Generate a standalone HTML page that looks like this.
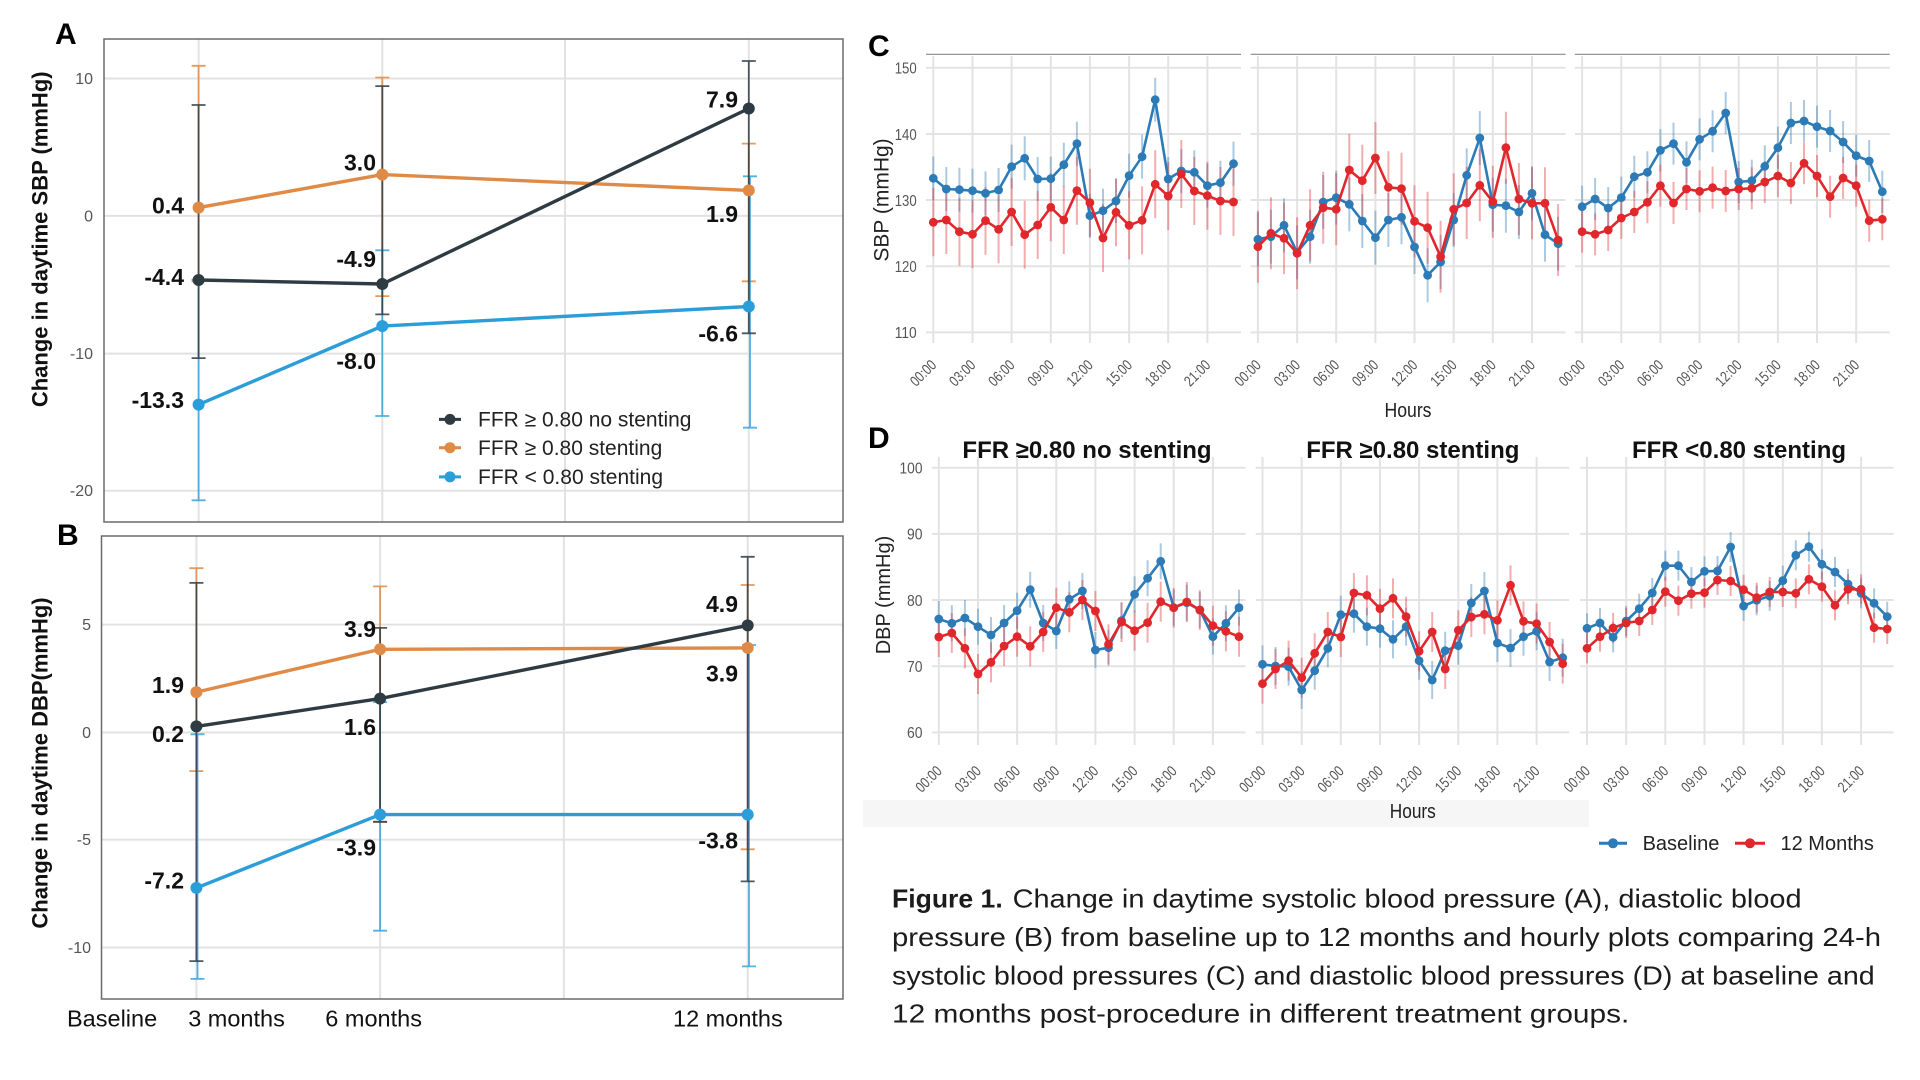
<!DOCTYPE html>
<html><head><meta charset="utf-8">
<style>
html,body{margin:0;padding:0;background:#fff}
svg{display:block}
text{font-family:"Liberation Sans",Arial,sans-serif}
</style></head>
<body>
<svg xmlns="http://www.w3.org/2000/svg" xmlns:xlink="http://www.w3.org/1999/xlink" width="1920" height="1080" viewBox="0 0 1920 1080">
<defs>
<marker id="mB" markerUnits="userSpaceOnUse" overflow="visible" markerWidth="10" markerHeight="10" refX="0" refY="0"><circle r="4.4" fill="#2c7bb6"/></marker>
<marker id="mR" markerUnits="userSpaceOnUse" overflow="visible" markerWidth="10" markerHeight="10" refX="0" refY="0"><circle r="4.4" fill="#e0282c"/></marker>
<marker id="eb22" markerUnits="userSpaceOnUse" overflow="visible" markerWidth="4" markerHeight="4" refX="0" refY="0"><path d="M0,-22V22" stroke="#2c7bb6" stroke-opacity=".4" stroke-width="2"/></marker>
<marker id="eb27" markerUnits="userSpaceOnUse" overflow="visible" markerWidth="4" markerHeight="4" refX="0" refY="0"><path d="M0,-27V27" stroke="#2c7bb6" stroke-opacity=".4" stroke-width="2"/></marker>
<marker id="eb21" markerUnits="userSpaceOnUse" overflow="visible" markerWidth="4" markerHeight="4" refX="0" refY="0"><path d="M0,-21V21" stroke="#2c7bb6" stroke-opacity=".4" stroke-width="2"/></marker>
<marker id="eb18" markerUnits="userSpaceOnUse" overflow="visible" markerWidth="4" markerHeight="4" refX="0" refY="0"><path d="M0,-18V18" stroke="#2c7bb6" stroke-opacity=".4" stroke-width="2"/></marker>
<marker id="eb19" markerUnits="userSpaceOnUse" overflow="visible" markerWidth="4" markerHeight="4" refX="0" refY="0"><path d="M0,-19V19" stroke="#2c7bb6" stroke-opacity=".4" stroke-width="2"/></marker>
<marker id="eb15" markerUnits="userSpaceOnUse" overflow="visible" markerWidth="4" markerHeight="4" refX="0" refY="0"><path d="M0,-15V15" stroke="#2c7bb6" stroke-opacity=".4" stroke-width="2"/></marker>
<marker id="er34" markerUnits="userSpaceOnUse" overflow="visible" markerWidth="4" markerHeight="4" refX="0" refY="0"><path d="M0,-34V34" stroke="#e0282c" stroke-opacity=".38" stroke-width="2"/></marker>
<marker id="er36" markerUnits="userSpaceOnUse" overflow="visible" markerWidth="4" markerHeight="4" refX="0" refY="0"><path d="M0,-36V36" stroke="#e0282c" stroke-opacity=".38" stroke-width="2"/></marker>
<marker id="er21" markerUnits="userSpaceOnUse" overflow="visible" markerWidth="4" markerHeight="4" refX="0" refY="0"><path d="M0,-21V21" stroke="#e0282c" stroke-opacity=".38" stroke-width="2"/></marker>
<marker id="er20" markerUnits="userSpaceOnUse" overflow="visible" markerWidth="4" markerHeight="4" refX="0" refY="0"><path d="M0,-20V20" stroke="#e0282c" stroke-opacity=".38" stroke-width="2"/></marker>
<marker id="er15" markerUnits="userSpaceOnUse" overflow="visible" markerWidth="4" markerHeight="4" refX="0" refY="0"><path d="M0,-15V15" stroke="#e0282c" stroke-opacity=".38" stroke-width="2"/></marker>

<g id="cgrid">
<path d="M-7.3,67.7H307.7M-7.3,134H307.7M-7.3,200H307.7M-7.3,266.2H307.7M-7.3,332.4H307.7" stroke="#e3e3e3" stroke-width="2" fill="none"/>
<path d="M0,56V343M39.2,56V343M78.3,56V343M117.5,56V343M156.6,56V343M195.8,56V343M234.9,56V343M274.1,56V343" stroke="#e3e3e3" stroke-width="2" fill="none"/>
<path d="M-7.3,54.3H307.7" stroke="#8a8a8a" stroke-width="1.2"/>
</g>
<g id="dgrid">
<path d="M-6.8,467.7H306.7M-6.8,533.9H306.7M-6.8,600H306.7M-6.8,666.2H306.7M-6.8,732.4H306.7" stroke="#e3e3e3" stroke-width="2" fill="none"/>
<path d="M0,457V745M39.2,457V745M78.3,457V745M117.5,457V745M156.6,457V745M195.8,457V745M234.9,457V745M274.1,457V745" stroke="#e3e3e3" stroke-width="2" fill="none"/>
</g>

<polyline id="c1b" points="0,178.3 13,189 26.1,189.7 39.2,190.7 52.2,193.3 65.3,190 78.3,166.7 91.4,158.3 104.4,179 117.5,178.7 130.5,164.7 143.6,143.7 156.6,215.7 169.7,210.7 182.7,201 195.8,175.7 208.8,156.7 221.9,99.7 234.9,179 248,171 261,172.3 274.1,185.7 287.1,182.7 300.2,163.7"/>
<polyline id="c1r" points="0,222.3 13,220 26.1,231.7 39.2,234.3 52.2,220.7 65.3,229.3 78.3,212 91.4,234.7 104.4,225 117.5,207.3 130.5,220 143.6,190.7 156.6,202.7 169.7,238 182.7,212.3 195.8,225.3 208.8,220.3 221.9,184.3 234.9,196 248,174 261,191 274.1,195.7 287.1,201 300.2,202"/>
<polyline id="c2b" points="0,239.3 13,236.7 26.1,225.3 39.2,252.3 52.2,236.7 65.3,202 78.3,197.7 91.4,204.3 104.4,221 117.5,237.7 130.5,220 143.6,217.3 156.6,247 169.7,275.3 182.7,262 195.8,220 208.8,175.3 221.9,138 234.9,204.7 248,205.7 261,212 274.1,193.3 287.1,234.7 300.2,243.7"/>
<polyline id="c2r" points="0,246.7 13,233.3 26.1,238.3 39.2,253.3 52.2,225.3 65.3,207.7 78.3,209.3 91.4,170 104.4,180.7 117.5,158 130.5,187.3 143.6,188.7 156.6,221.3 169.7,227.7 182.7,256.7 195.8,209.3 208.8,203 221.9,185.3 234.9,201.7 248,147.7 261,199 274.1,203.3 287.1,203.3 300.2,240"/>
<polyline id="c3b" points="0,206.7 13,199 26.1,208 39.2,197.7 52.2,176.7 65.3,172.3 78.3,150.3 91.4,143.7 104.4,162.3 117.5,139.3 130.5,131.3 143.6,113 156.6,182 169.7,180.7 182.7,166.3 195.8,147.7 208.8,123 221.9,121 234.9,126.7 248,131 261,142 274.1,155.7 287.1,161 300.2,191.7"/>
<polyline id="c3r" points="0,231.7 13,234.3 26.1,230 39.2,218 52.2,212 65.3,202.3 78.3,185.7 91.4,203 104.4,189 117.5,191.3 130.5,187.7 143.6,191 156.6,189 169.7,188.3 182.7,182 195.8,176 208.8,183 221.9,163.3 234.9,176 248,196.7 261,178 274.1,185.7 287.1,220.7 300.2,219.3"/>
<polyline id="d1b" points="0,619 13,623.3 26.1,618 39.2,626.7 52.2,635 65.3,623 78.3,610.7 91.4,589.7 104.4,623 117.5,631 130.5,599.3 143.6,591 156.6,650 169.7,647.7 182.7,620.7 195.8,594.3 208.8,578.3 221.9,561.3 234.9,607.7 248,602.7 261,610 274.1,636.7 287.1,623.3 300.2,607.7"/>
<polyline id="d1r" points="0,637 13,633 26.1,648.3 39.2,674 52.2,662.3 65.3,646 78.3,636.7 91.4,646.3 104.4,632 117.5,607.7 130.5,612.3 143.6,600 156.6,611 169.7,644.3 182.7,622 195.8,630.7 208.8,622.7 221.9,601.7 234.9,607.7 248,602 261,610 274.1,625.7 287.1,631.3 300.2,636.7"/>
<polyline id="d2b" points="0,664.3 13,666 26.1,666.7 39.2,690 52.2,670.7 65.3,648.3 78.3,614.7 91.4,613.7 104.4,626.7 117.5,628.7 130.5,639.3 143.6,626.7 156.6,660.7 169.7,680 182.7,650.7 195.8,645.7 208.8,603 221.9,591 234.9,643 248,648 261,636.7 274.1,631.3 287.1,662 300.2,657.7"/>
<polyline id="d2r" points="0,683.7 13,669 26.1,660.7 39.2,677.7 52.2,653.3 65.3,632 78.3,637 91.4,593 104.4,595.3 117.5,608.7 130.5,598.3 143.6,616.7 156.6,651.3 169.7,632 182.7,669 195.8,630.3 208.8,617 221.9,614.3 234.9,620.3 248,585.3 261,621.3 274.1,623.7 287.1,642 300.2,663.7"/>
<polyline id="d3b" points="0,628.3 13,623 26.1,637.3 39.2,621 52.2,608.7 65.3,593 78.3,565.7 91.4,565.7 104.4,582 117.5,571.3 130.5,571 143.6,547 156.6,606 169.7,600.3 182.7,596 195.8,580.7 208.8,555.3 221.9,546.7 234.9,564.3 248,572 261,584 274.1,593.3 287.1,603.3 300.2,616.7"/>
<polyline id="d3r" points="0,648.3 13,636.7 26.1,628 39.2,623 52.2,621 65.3,610 78.3,591.7 91.4,600.7 104.4,593.7 117.5,592.7 130.5,580 143.6,581 156.6,589.7 169.7,597.7 182.7,592 195.8,592 208.8,593.3 221.9,579.3 234.9,586.7 248,605.3 261,589.3 274.1,589.3 287.1,627.7 300.2,629"/>
</defs>

<rect width="1920" height="1080" fill="#fff"/>

<!-- ================= PANEL A ================= -->
<path d="M104,78.5H843M104,215.9H843M104,353.6H843M104,490.7H843M198.6,39V522M382.3,39V522M565,39V522M748.8,39V522" stroke="#e2e2e2" stroke-width="2" fill="none"/>
<rect x="104" y="39" width="739" height="483" fill="none" stroke="#6b6b6b" stroke-width="1.5"/>
<g font-size="16" fill="#555" text-anchor="end">
<text x="93" y="84">10</text><text x="93" y="221.4">0</text><text x="93" y="359.1">-10</text><text x="93" y="496.2">-20</text>
</g>
<!-- error bars A -->
<path d="M198.6,65.8V281.3M191.6,65.8h14M191.6,281.3h14M382.3,77.5V296.1M375.3,77.5h14M375.3,296.1h14M748.8,143.6V281.3M741.8,143.6h14M741.8,281.3h14" stroke="#df8a47" stroke-width="1.8" stroke-opacity=".85" fill="none"/>
<path d="M198.6,279.6V500.3M191.6,279.6h14M191.6,500.3h14M382.3,250.3V416M375.3,250.3h14M375.3,416h14M750,176.3V427.7M743,176.3h14M743,427.7h14" stroke="#2b9dd8" stroke-width="1.8" stroke-opacity=".8" fill="none"/>
<path d="M198.6,105V358.1M191.6,105h14M191.6,358.1h14M382.3,86.1V314.4M375.3,86.1h14M375.3,314.4h14M748.8,61V333.3M741.8,61h14M741.8,333.3h14" stroke="#2f3b42" stroke-width="1.8" stroke-opacity=".85" fill="none"/>
<!-- lines A -->
<polyline points="198.6,207.6 382.3,174.6 748.8,190.4" fill="none" stroke="#df8a47" stroke-width="3.4"/>
<polyline points="198.6,404.6 382.3,326.1 748.8,306.5" fill="none" stroke="#2b9dd8" stroke-width="3.4"/>
<polyline points="198.6,280 382.3,284 748.8,108.5" fill="none" stroke="#2f3b42" stroke-width="3.4"/>
<g fill="#df8a47"><circle cx="198.6" cy="207.6" r="6"/><circle cx="382.3" cy="174.6" r="6"/><circle cx="748.8" cy="190.4" r="6"/></g>
<g fill="#2b9dd8"><circle cx="198.6" cy="404.6" r="6"/><circle cx="382.3" cy="326.1" r="6"/><circle cx="748.8" cy="306.5" r="6"/></g>
<g fill="#2f3b42"><circle cx="198.6" cy="280" r="6"/><circle cx="382.3" cy="284" r="6"/><circle cx="748.8" cy="108.5" r="6"/></g>
<g font-size="23" font-weight="bold" fill="#111" text-anchor="end">
<text x="184" y="213.5">0.4</text><text x="184" y="284.8">-4.4</text><text x="184" y="408">-13.3</text>
<text x="376" y="170.5">3.0</text><text x="376" y="266.9">-4.9</text><text x="376" y="369.1">-8.0</text>
<text x="738" y="107.4">7.9</text><text x="738" y="222.1">1.9</text><text x="738" y="341.6">-6.6</text>
</g>
<!-- legend A -->
<path d="M439,419.4h22" stroke="#2f3b42" stroke-width="3"/><circle cx="450" cy="419.4" r="5.5" fill="#2f3b42"/>
<path d="M439,447.7h22" stroke="#df8a47" stroke-width="3"/><circle cx="450" cy="447.7" r="5.5" fill="#df8a47"/>
<path d="M439,476.9h22" stroke="#2b9dd8" stroke-width="3"/><circle cx="450" cy="476.9" r="5.5" fill="#2b9dd8"/>
<g font-size="21" fill="#222">
<text x="478" y="426.7">FFR ≥ 0.80 no stenting</text>
<text x="478" y="455">FFR ≥ 0.80 stenting</text>
<text x="478" y="484.2">FFR &lt; 0.80 stenting</text>
</g>
<text transform="translate(47.5,239.3) rotate(-90)" text-anchor="middle" font-size="22" font-weight="bold" fill="#111">Change in daytime SBP (mmHg)</text>
<text x="55" y="44" font-size="30" font-weight="bold" fill="#000">A</text>

<!-- ================= PANEL B ================= -->
<path d="M101.5,624.6H843M101.5,732.5H843M101.5,839.6H843M101.5,947.5H843M196.4,536V999M380.1,536V999M563.9,536V999M747.7,536V999" stroke="#e2e2e2" stroke-width="2" fill="none"/>
<rect x="101.5" y="536" width="741.5" height="463" fill="none" stroke="#6b6b6b" stroke-width="1.5"/>
<g font-size="16" fill="#555" text-anchor="end">
<text x="91" y="630.1">5</text><text x="91" y="738">0</text><text x="91" y="845.1">-5</text><text x="91" y="953">-10</text>
</g>
<path d="M196.4,568.2V771.1M189.4,568.2h14M189.4,771.1h14M380.1,586.4V821.8M373.1,586.4h14M373.1,821.8h14M747.7,585V849.3M740.7,585h14M740.7,849.3h14" stroke="#df8a47" stroke-width="1.8" stroke-opacity=".85" fill="none"/>
<path d="M197.5,734.3V978.9M190.5,734.3h14M190.5,978.9h14M380.1,702.1V930.7M373.1,702.1h14M373.1,930.7h14M749,645V966.4M742,645h14M742,966.4h14" stroke="#2b9dd8" stroke-width="1.8" stroke-opacity=".8" fill="none"/>
<path d="M196.4,582.9V961.1M189.4,582.9h14M189.4,961.1h14M380.1,627.9V821.8M373.1,627.9h14M373.1,821.8h14M747.7,556.8V881.4M740.7,556.8h14M740.7,881.4h14" stroke="#2f3b42" stroke-width="1.8" stroke-opacity=".85" fill="none"/>
<polyline points="196.4,692.1 380.1,649.3 747.7,647.9" fill="none" stroke="#df8a47" stroke-width="3.4"/>
<polyline points="196.4,887.9 380.1,814.6 747.7,814.6" fill="none" stroke="#2b9dd8" stroke-width="3.4"/>
<polyline points="196.4,726.4 380.1,698.6 747.7,625.4" fill="none" stroke="#2f3b42" stroke-width="3.4"/>
<g fill="#df8a47"><circle cx="196.4" cy="692.1" r="6"/><circle cx="380.1" cy="649.3" r="6"/><circle cx="747.7" cy="647.9" r="6"/></g>
<g fill="#2b9dd8"><circle cx="196.4" cy="887.9" r="6"/><circle cx="380.1" cy="814.6" r="6"/><circle cx="747.7" cy="814.6" r="6"/></g>
<g fill="#2f3b42"><circle cx="196.4" cy="726.4" r="6"/><circle cx="380.1" cy="698.6" r="6"/><circle cx="747.7" cy="625.4" r="6"/></g>
<g font-size="23" font-weight="bold" fill="#111" text-anchor="end">
<text x="184" y="693.2">1.9</text><text x="184" y="742.1">0.2</text><text x="184" y="888.6">-7.2</text>
<text x="376" y="636.8">3.9</text><text x="376" y="735">1.6</text><text x="376" y="855.7">-3.9</text>
<text x="738" y="612.1">4.9</text><text x="738" y="681.4">3.9</text><text x="738" y="848.6">-3.8</text>
</g>
<text transform="translate(47.5,763) rotate(-90)" text-anchor="middle" font-size="22" font-weight="bold" fill="#111">Change in daytime DBP(mmHg)</text>
<text x="57" y="545" font-size="30" font-weight="bold" fill="#000">B</text>
<g font-size="23.5" fill="#111">
<text x="67" y="1026.4">Baseline</text>
<text x="188.2" y="1026.4">3 months</text>
<text x="325.3" y="1026.4">6 months</text>
<text x="673" y="1026.4">12 months</text>
</g>

<!-- ================= PANEL C ================= -->
<text x="868" y="56" font-size="30" font-weight="bold" fill="#000">C</text>
<text transform="translate(888.5,200) rotate(-90)" text-anchor="middle" font-size="21" fill="#222">SBP (mmHg)</text>
<g font-size="16" fill="#555" text-anchor="end" lengthAdjust="spacingAndGlyphs">
<text x="916.7" y="73.5" textLength="22" lengthAdjust="spacingAndGlyphs">150</text>
<text x="916.7" y="139.8" textLength="22" lengthAdjust="spacingAndGlyphs">140</text>
<text x="916.7" y="205.8" textLength="22" lengthAdjust="spacingAndGlyphs">130</text>
<text x="916.7" y="272" textLength="22" lengthAdjust="spacingAndGlyphs">120</text>
<text x="916.7" y="338.2" textLength="22" lengthAdjust="spacingAndGlyphs">110</text>
</g>

<g transform="translate(933.3,0)">
<use href="#cgrid" xlink:href="#cgrid"/>
<use href="#c1b" xlink:href="#c1b" fill="none" stroke="none" style="marker:url(#eb22)"/>
<use href="#c1r" xlink:href="#c1r" fill="none" stroke="none" style="marker:url(#er34)"/>
<use href="#c1b" xlink:href="#c1b" fill="none" stroke="#2c7bb6" stroke-width="2.6" stroke-linejoin="round" style="marker:url(#mB)"/>
<use href="#c1r" xlink:href="#c1r" fill="none" stroke="#e0282c" stroke-width="2.6" stroke-linejoin="round" style="marker:url(#mR)"/>
<g font-size="15" fill="#555" text-anchor="end">
<text transform="translate(4,366) rotate(-45)" textLength="30" lengthAdjust="spacingAndGlyphs">00:00</text>
<text transform="translate(43.2,366) rotate(-45)" textLength="30" lengthAdjust="spacingAndGlyphs">03:00</text>
<text transform="translate(82.3,366) rotate(-45)" textLength="30" lengthAdjust="spacingAndGlyphs">06:00</text>
<text transform="translate(121.5,366) rotate(-45)" textLength="30" lengthAdjust="spacingAndGlyphs">09:00</text>
<text transform="translate(160.6,366) rotate(-45)" textLength="30" lengthAdjust="spacingAndGlyphs">12:00</text>
<text transform="translate(199.8,366) rotate(-45)" textLength="30" lengthAdjust="spacingAndGlyphs">15:00</text>
<text transform="translate(238.9,366) rotate(-45)" textLength="30" lengthAdjust="spacingAndGlyphs">18:00</text>
<text transform="translate(278.1,366) rotate(-45)" textLength="30" lengthAdjust="spacingAndGlyphs">21:00</text>
</g>
</g>

<g transform="translate(1257.9,0)">
<use href="#cgrid" xlink:href="#cgrid"/>
<use href="#c2b" xlink:href="#c2b" fill="none" stroke="none" style="marker:url(#eb27)"/>
<use href="#c2r" xlink:href="#c2r" fill="none" stroke="none" style="marker:url(#er36)"/>
<use href="#c2b" xlink:href="#c2b" fill="none" stroke="#2c7bb6" stroke-width="2.6" stroke-linejoin="round" style="marker:url(#mB)"/>
<use href="#c2r" xlink:href="#c2r" fill="none" stroke="#e0282c" stroke-width="2.6" stroke-linejoin="round" style="marker:url(#mR)"/>
<g font-size="15" fill="#555" text-anchor="end">
<text transform="translate(4,366) rotate(-45)" textLength="30" lengthAdjust="spacingAndGlyphs">00:00</text>
<text transform="translate(43.2,366) rotate(-45)" textLength="30" lengthAdjust="spacingAndGlyphs">03:00</text>
<text transform="translate(82.3,366) rotate(-45)" textLength="30" lengthAdjust="spacingAndGlyphs">06:00</text>
<text transform="translate(121.5,366) rotate(-45)" textLength="30" lengthAdjust="spacingAndGlyphs">09:00</text>
<text transform="translate(160.6,366) rotate(-45)" textLength="30" lengthAdjust="spacingAndGlyphs">12:00</text>
<text transform="translate(199.8,366) rotate(-45)" textLength="30" lengthAdjust="spacingAndGlyphs">15:00</text>
<text transform="translate(238.9,366) rotate(-45)" textLength="30" lengthAdjust="spacingAndGlyphs">18:00</text>
<text transform="translate(278.1,366) rotate(-45)" textLength="30" lengthAdjust="spacingAndGlyphs">21:00</text>
</g>
</g>

<g transform="translate(1582.1,0)">
<use href="#cgrid" xlink:href="#cgrid"/>
<use href="#c3b" xlink:href="#c3b" fill="none" stroke="none" style="marker:url(#eb21)"/>
<use href="#c3r" xlink:href="#c3r" fill="none" stroke="none" style="marker:url(#er21)"/>
<use href="#c3b" xlink:href="#c3b" fill="none" stroke="#2c7bb6" stroke-width="2.6" stroke-linejoin="round" style="marker:url(#mB)"/>
<use href="#c3r" xlink:href="#c3r" fill="none" stroke="#e0282c" stroke-width="2.6" stroke-linejoin="round" style="marker:url(#mR)"/>
<g font-size="15" fill="#555" text-anchor="end">
<text transform="translate(4,366) rotate(-45)" textLength="30" lengthAdjust="spacingAndGlyphs">00:00</text>
<text transform="translate(43.2,366) rotate(-45)" textLength="30" lengthAdjust="spacingAndGlyphs">03:00</text>
<text transform="translate(82.3,366) rotate(-45)" textLength="30" lengthAdjust="spacingAndGlyphs">06:00</text>
<text transform="translate(121.5,366) rotate(-45)" textLength="30" lengthAdjust="spacingAndGlyphs">09:00</text>
<text transform="translate(160.6,366) rotate(-45)" textLength="30" lengthAdjust="spacingAndGlyphs">12:00</text>
<text transform="translate(199.8,366) rotate(-45)" textLength="30" lengthAdjust="spacingAndGlyphs">15:00</text>
<text transform="translate(238.9,366) rotate(-45)" textLength="30" lengthAdjust="spacingAndGlyphs">18:00</text>
<text transform="translate(278.1,366) rotate(-45)" textLength="30" lengthAdjust="spacingAndGlyphs">21:00</text>
</g>
</g>
<text x="1408" y="417" text-anchor="middle" font-size="20" fill="#222" textLength="47" lengthAdjust="spacingAndGlyphs">Hours</text>

<!-- ================= PANEL D ================= -->
<rect x="863" y="800" width="726" height="27" fill="#f6f6f6"/>
<text x="868" y="448" font-size="30" font-weight="bold" fill="#000">D</text>
<text transform="translate(890,595) rotate(-90)" text-anchor="middle" font-size="20" fill="#222">DBP (mmHg)</text>
<g font-size="16" fill="#555" text-anchor="end">
<text x="922.5" y="473.5" textLength="23" lengthAdjust="spacingAndGlyphs">100</text>
<text x="922.5" y="539.7" textLength="15.5" lengthAdjust="spacingAndGlyphs">90</text>
<text x="922.5" y="605.8" textLength="15.5" lengthAdjust="spacingAndGlyphs">80</text>
<text x="922.5" y="672" textLength="15.5" lengthAdjust="spacingAndGlyphs">70</text>
<text x="922.5" y="738.2" textLength="15.5" lengthAdjust="spacingAndGlyphs">60</text>
</g>
<g font-size="24" font-weight="bold" fill="#111" text-anchor="middle">
<text x="1087" y="458">FFR ≥0.80 no stenting</text>
<text x="1412.8" y="458">FFR ≥0.80 stenting</text>
<text x="1739" y="458">FFR &lt;0.80 stenting</text>
</g>

<g transform="translate(938.8,0)">
<use href="#dgrid" xlink:href="#dgrid"/>
<use href="#d1b" xlink:href="#d1b" fill="none" stroke="none" style="marker:url(#eb18)"/>
<use href="#d1r" xlink:href="#d1r" fill="none" stroke="none" style="marker:url(#er20)"/>
<use href="#d1b" xlink:href="#d1b" fill="none" stroke="#2c7bb6" stroke-width="2.6" stroke-linejoin="round" style="marker:url(#mB)"/>
<use href="#d1r" xlink:href="#d1r" fill="none" stroke="#e0282c" stroke-width="2.6" stroke-linejoin="round" style="marker:url(#mR)"/>
<g font-size="15" fill="#555" text-anchor="end">
<text transform="translate(4,772) rotate(-45)" textLength="30" lengthAdjust="spacingAndGlyphs">00:00</text>
<text transform="translate(43.2,772) rotate(-45)" textLength="30" lengthAdjust="spacingAndGlyphs">03:00</text>
<text transform="translate(82.3,772) rotate(-45)" textLength="30" lengthAdjust="spacingAndGlyphs">06:00</text>
<text transform="translate(121.5,772) rotate(-45)" textLength="30" lengthAdjust="spacingAndGlyphs">09:00</text>
<text transform="translate(160.6,772) rotate(-45)" textLength="30" lengthAdjust="spacingAndGlyphs">12:00</text>
<text transform="translate(199.8,772) rotate(-45)" textLength="30" lengthAdjust="spacingAndGlyphs">15:00</text>
<text transform="translate(238.9,772) rotate(-45)" textLength="30" lengthAdjust="spacingAndGlyphs">18:00</text>
<text transform="translate(278.1,772) rotate(-45)" textLength="30" lengthAdjust="spacingAndGlyphs">21:00</text>
</g>
</g>

<g transform="translate(1262.5,0)">
<use href="#dgrid" xlink:href="#dgrid"/>
<use href="#d2b" xlink:href="#d2b" fill="none" stroke="none" style="marker:url(#eb19)"/>
<use href="#d2r" xlink:href="#d2r" fill="none" stroke="none" style="marker:url(#er20)"/>
<use href="#d2b" xlink:href="#d2b" fill="none" stroke="#2c7bb6" stroke-width="2.6" stroke-linejoin="round" style="marker:url(#mB)"/>
<use href="#d2r" xlink:href="#d2r" fill="none" stroke="#e0282c" stroke-width="2.6" stroke-linejoin="round" style="marker:url(#mR)"/>
<g font-size="15" fill="#555" text-anchor="end">
<text transform="translate(4,772) rotate(-45)" textLength="30" lengthAdjust="spacingAndGlyphs">00:00</text>
<text transform="translate(43.2,772) rotate(-45)" textLength="30" lengthAdjust="spacingAndGlyphs">03:00</text>
<text transform="translate(82.3,772) rotate(-45)" textLength="30" lengthAdjust="spacingAndGlyphs">06:00</text>
<text transform="translate(121.5,772) rotate(-45)" textLength="30" lengthAdjust="spacingAndGlyphs">09:00</text>
<text transform="translate(160.6,772) rotate(-45)" textLength="30" lengthAdjust="spacingAndGlyphs">12:00</text>
<text transform="translate(199.8,772) rotate(-45)" textLength="30" lengthAdjust="spacingAndGlyphs">15:00</text>
<text transform="translate(238.9,772) rotate(-45)" textLength="30" lengthAdjust="spacingAndGlyphs">18:00</text>
<text transform="translate(278.1,772) rotate(-45)" textLength="30" lengthAdjust="spacingAndGlyphs">21:00</text>
</g>
</g>

<g transform="translate(1587,0)">
<use href="#dgrid" xlink:href="#dgrid"/>
<use href="#d3b" xlink:href="#d3b" fill="none" stroke="none" style="marker:url(#eb15)"/>
<use href="#d3r" xlink:href="#d3r" fill="none" stroke="none" style="marker:url(#er15)"/>
<use href="#d3b" xlink:href="#d3b" fill="none" stroke="#2c7bb6" stroke-width="2.6" stroke-linejoin="round" style="marker:url(#mB)"/>
<use href="#d3r" xlink:href="#d3r" fill="none" stroke="#e0282c" stroke-width="2.6" stroke-linejoin="round" style="marker:url(#mR)"/>
<g font-size="15" fill="#555" text-anchor="end">
<text transform="translate(4,772) rotate(-45)" textLength="30" lengthAdjust="spacingAndGlyphs">00:00</text>
<text transform="translate(43.2,772) rotate(-45)" textLength="30" lengthAdjust="spacingAndGlyphs">03:00</text>
<text transform="translate(82.3,772) rotate(-45)" textLength="30" lengthAdjust="spacingAndGlyphs">06:00</text>
<text transform="translate(121.5,772) rotate(-45)" textLength="30" lengthAdjust="spacingAndGlyphs">09:00</text>
<text transform="translate(160.6,772) rotate(-45)" textLength="30" lengthAdjust="spacingAndGlyphs">12:00</text>
<text transform="translate(199.8,772) rotate(-45)" textLength="30" lengthAdjust="spacingAndGlyphs">15:00</text>
<text transform="translate(238.9,772) rotate(-45)" textLength="30" lengthAdjust="spacingAndGlyphs">18:00</text>
<text transform="translate(278.1,772) rotate(-45)" textLength="30" lengthAdjust="spacingAndGlyphs">21:00</text>
</g>
</g>
<text x="1412.8" y="818" text-anchor="middle" font-size="20" fill="#222" textLength="46" lengthAdjust="spacingAndGlyphs">Hours</text>

<!-- bottom legend -->
<path d="M1599,843.3h28" stroke="#2c7bb6" stroke-width="3"/><circle cx="1613" cy="843.3" r="5" fill="#2c7bb6"/>
<text x="1642.6" y="850" font-size="20" fill="#222">Baseline</text>
<path d="M1735,843.3h30" stroke="#e0282c" stroke-width="3"/><circle cx="1750" cy="843.3" r="5" fill="#e0282c"/>
<text x="1780.5" y="850" font-size="20" fill="#222">12 Months</text>

<!-- caption -->
<g font-size="26" fill="#1c1c1c">
<text x="892" y="907.5" font-weight="bold" textLength="110.7" lengthAdjust="spacingAndGlyphs">Figure 1.</text>
<text x="1012.6" y="907.5" textLength="789" lengthAdjust="spacingAndGlyphs">Change in daytime systolic blood pressure (A), diastolic blood</text>
<text x="892" y="946" textLength="989" lengthAdjust="spacingAndGlyphs">pressure (B) from baseline up to 12 months and hourly plots comparing 24-h</text>
<text x="892" y="984.5" textLength="982.7" lengthAdjust="spacingAndGlyphs">systolic blood pressures (C) and diastolic blood pressures (D) at baseline and</text>
<text x="892" y="1022.5" textLength="737.3" lengthAdjust="spacingAndGlyphs">12 months post-procedure in different treatment groups.</text>
</g>
</svg>
</body></html>
